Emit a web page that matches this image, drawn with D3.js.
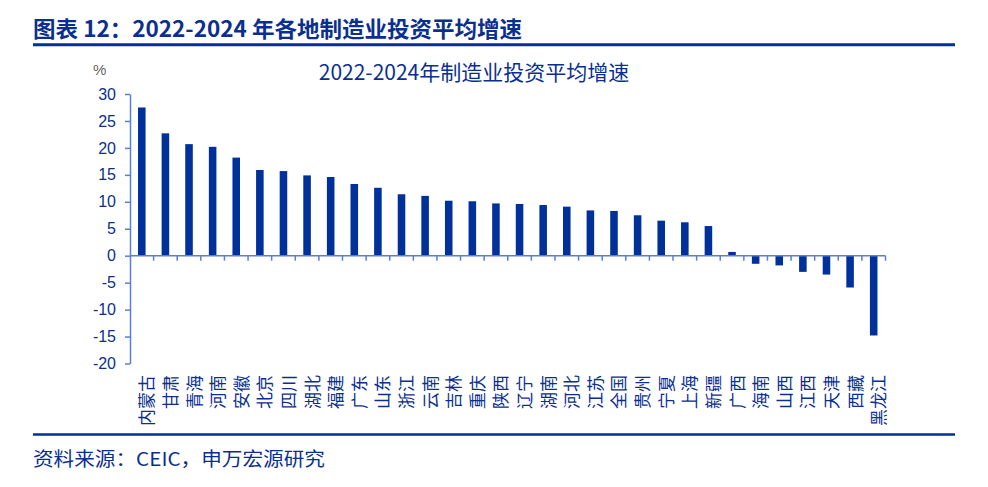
<!DOCTYPE html>
<html>
<head>
<meta charset="utf-8">
<script src="https://cdn.jsdelivr.net/npm/d3@7"></script>
<style>
  body { margin: 0; background: #fff; }
  svg { display: block; }
</style>
</head>
<body>
<svg id="chart"></svg>
<script>
// Provinces, sorted as in the source chart
const provinces = ["内蒙古", "甘肃", "青海", "河南", "安徽", "北京", "四川", "湖北", "福建", "广东",
  "山东", "浙江", "云南", "吉林", "重庆", "陕西", "辽宁", "湖南", "河北", "江苏",
  "全国", "贵州", "宁夏", "上海", "新疆", "广西", "海南", "山西", "江西", "天津",
  "西藏", "黑龙江"];
// 2022-2024 average growth of manufacturing investment, %
const growth = [27.5, 22.7, 20.7, 20.2, 18.2, 15.9, 15.7, 14.9, 14.6, 13.3,
  12.6, 11.4, 11.1, 10.2, 10.1, 9.7, 9.6, 9.4, 9.1, 8.4,
  8.3, 7.5, 6.5, 6.2, 5.5, 0.7, -1.5, -1.8, -3.0, -3.5,
  -5.9, -14.8];
const yTicks = [30, 25, 20, 15, 10, 5, 0, -5, -10, -15, -20];

const header = "图表 12：2022-2024 年各地制造业投资平均增速";
const chartTitle = "2022-2024年制造业投资平均增速";
const source = "资料来源：CEIC，申万宏源研究";

const data = provinces.map((name, i) => ({ name: name, value: growth[i] }));

const config = {
  width: 988,
  height: 487,
  left: 130,
  right: 885.5,
  top: 94,
  bottom: 363.5,
};
const navy = "#0b2f8f";
const barColor = "#00309a";
const axisColor = "#5a7fcf";
const cjk = "'Noto Sans CJK SC', 'Noto Sans', sans-serif";
const latin = "'Liberation Sans', Arial, sans-serif";

const svg = d3.select("#chart")
  .attr("width", config.width)
  .attr("height", config.height);

// Report header and rules
svg.append("text")
  .attr("x", 33)
  .attr("y", 37)
  .attr("fill", navy)
  .style("font-family", cjk)
  .style("font-weight", "bold")
  .style("font-size", "22px")
  .attr("textLength", 489)
  .attr("lengthAdjust", "spacingAndGlyphs")
  .text(header);

svg.append("line")
  .attr("x1", 33).attr("x2", 955)
  .attr("y1", 44.7).attr("y2", 44.7)
  .attr("stroke", "#00309a")
  .attr("stroke-width", 3);

svg.append("line")
  .attr("x1", 33).attr("x2", 955)
  .attr("y1", 434.5).attr("y2", 434.5)
  .attr("stroke", "#00309a")
  .attr("stroke-width", 2.5);

svg.append("text")
  .attr("x", 33)
  .attr("y", 466)
  .attr("fill", navy)
  .style("font-family", cjk)
  .style("font-size", "19px")
  .attr("textLength", 292)
  .attr("lengthAdjust", "spacingAndGlyphs")
  .text(source);

// Scales
const xScale = d3.scaleBand()
  .domain(provinces)
  .range([config.left, config.right]);

const yScale = d3.scaleLinear()
  .domain([-20, 30])
  .range([config.bottom, config.top]);

// Chart title and unit
svg.append("text")
  .attr("x", 474)
  .attr("y", 80)
  .attr("text-anchor", "middle")
  .attr("fill", navy)
  .style("font-family", cjk)
  .style("font-size", "21px")
  .text(chartTitle);

svg.append("text")
  .attr("x", 93)
  .attr("y", 75)
  .attr("fill", "#666")
  .style("font-family", latin)
  .style("font-size", "15px")
  .text("%");

// Bars
const barWidth = xScale.bandwidth() * 0.32;
svg.append("g")
  .selectAll("rect")
  .data(data)
  .join("rect")
  .attr("x", (d) => xScale(d.name) + (xScale.bandwidth() - barWidth) / 2)
  .attr("y", (d) => yScale(Math.max(0, d.value)))
  .attr("width", barWidth)
  .attr("height", (d) => Math.abs(yScale(d.value) - yScale(0)))
  .attr("fill", barColor);

// Y axis (plain hyphen for negatives, as in the source)
const yAxis = svg.append("g")
  .attr("transform", `translate(${config.left},0)`)
  .call(d3.axisLeft(yScale)
    .tickValues(yTicks)
    .tickFormat((d) => String(d))
    .tickSize(5)
    .tickPadding(9)
    .tickSizeOuter(0));

yAxis.select(".domain").attr("stroke", axisColor).attr("stroke-width", 1.5);
yAxis.selectAll(".tick line").attr("stroke", axisColor).attr("stroke-width", 1.5);
yAxis.selectAll(".tick text")
  .attr("fill", navy)
  .style("font-family", latin)
  .style("font-size", "16px");

// X axis on the zero line, ticks between categories
const xAxis = svg.append("g");
xAxis.append("line")
  .attr("x1", config.left).attr("x2", config.right)
  .attr("y1", yScale(0)).attr("y2", yScale(0))
  .attr("stroke", axisColor)
  .attr("stroke-width", 1.5);

const boundaries = provinces.map((p) => xScale(p) + xScale.bandwidth());
xAxis.selectAll(".xtick")
  .data(boundaries)
  .join("line")
  .attr("class", "xtick")
  .attr("x1", (d) => d).attr("x2", (d) => d)
  .attr("y1", yScale(0)).attr("y2", yScale(0) + 5)
  .attr("stroke", axisColor)
  .attr("stroke-width", 1.5);

// Rotated category labels
svg.append("g")
  .selectAll("text")
  .data(data)
  .join("text")
  .attr("transform", (d) =>
    `translate(${xScale(d.name) + xScale.bandwidth() / 2 + 4},375) rotate(-90)`)
  .attr("text-anchor", "end")
  .attr("dominant-baseline", "central")
  .attr("fill", navy)
  .style("font-family", cjk)
  .style("font-size", "17px")
  .text((d) => d.name);
</script>
</body>
</html>
